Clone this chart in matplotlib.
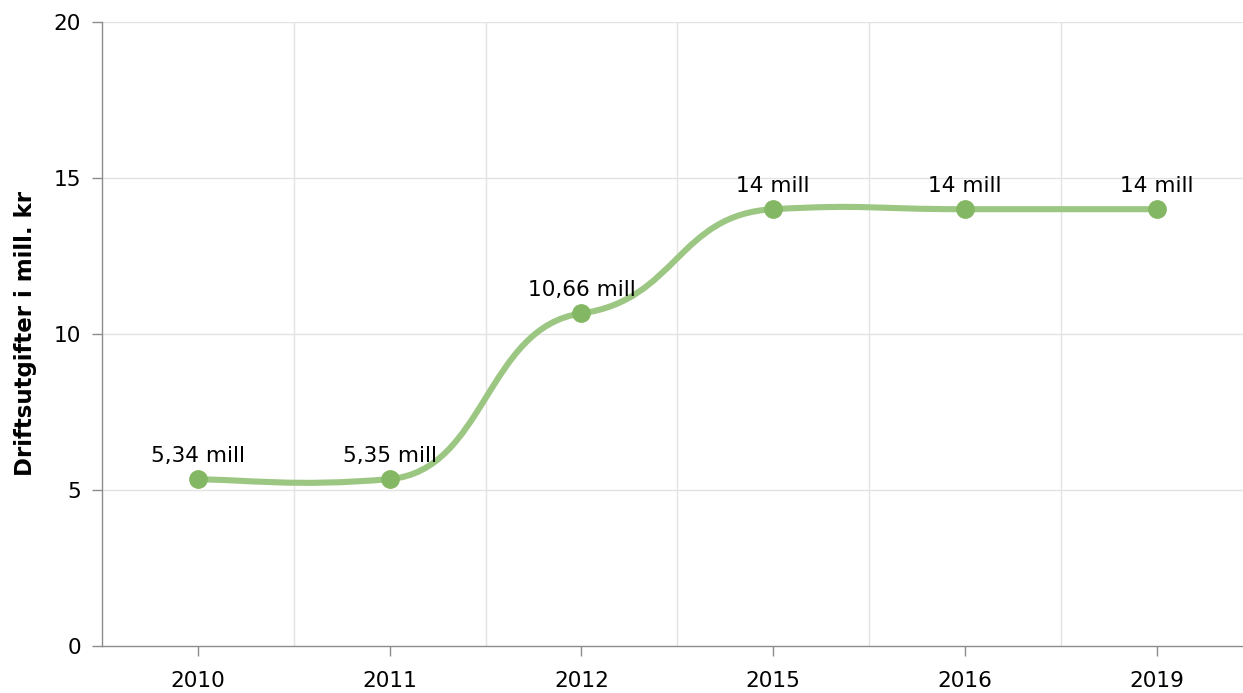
import numpy as np
import matplotlib
matplotlib.use("Agg")
import matplotlib.pyplot as plt
from matplotlib.path import Path
from matplotlib.patches import PathPatch

# Data
years = ["2010", "2011", "2012", "2015", "2016", "2019"]
values = [5.34, 5.35, 10.66, 14.0, 14.0, 14.0]
labels = ["5,34 mill", "5,35 mill", "10,66 mill", "14 mill", "14 mill", "14 mill"]
y_ticks = [0, 5, 10, 15, 20]

LINE_COLOR = "#9cc783"
MARKER_COLOR = "#84b763"
GRID_COLOR = "#e3e3e3"
AXIS_COLOR = "#8c8c8c"
FS = 15.6

plt.rcParams["font.family"] = ["DejaVu Sans"]


def smoothed_path(xs, ys, bx=4.0, by=20.0):
    # bezier smoothing with separate x / y tension
    pts = list(zip(xs, ys))
    n = len(pts)
    verts = [pts[0]]
    codes = [Path.MOVETO]
    for i in range(n - 1):
        p0 = pts[i - 1] if i > 0 else pts[i]
        p1 = pts[i]
        p2 = pts[i + 1]
        p3 = pts[i + 2] if i + 2 < n else pts[i + 1]
        c1 = ((-p0[0] + bx * p1[0] + p2[0]) / bx, (-p0[1] + by * p1[1] + p2[1]) / by)
        c2 = ((p1[0] + bx * p2[0] - p3[0]) / bx, (p1[1] + by * p2[1] - p3[1]) / by)
        verts += [c1, c2, p2]
        codes += [Path.CURVE4] * 3
    return Path(verts, codes)


fig = plt.figure(figsize=(12.43, 6.93), dpi=100)
ax = fig.add_axes([102 / 1243, 1 - 646 / 693, 1 - 102 / 1243, (646 - 22) / 693])

x = np.arange(len(years))
ax.set_xlim(-0.5, 5.45)
ax.set_ylim(0, 20)

# grid: horizontal at ticks, vertical at category boundaries
for yv in y_ticks[1:]:
    ax.axhline(yv, color=GRID_COLOR, lw=1, zorder=0)
for b in x[:-1] + 0.5:
    ax.axvline(b, color=GRID_COLOR, lw=1, zorder=0)

path = smoothed_path(list(x.astype(float)), values)
ax.add_patch(PathPatch(path, facecolor="none", edgecolor=LINE_COLOR, lw=4.4,
                       capstyle="round", joinstyle="round", zorder=2))
ax.plot(x, values, "o", color=MARKER_COLOR, ms=12.5, zorder=3)

for xi, v, lab in zip(x, values, labels):
    ax.annotate(lab, (xi, v), xytext=(0, 12.5), textcoords="offset points",
                ha="center", va="baseline", fontsize=FS, color="#000000", zorder=4)

ax.set_xticks(x)
ax.set_xticklabels(years, fontsize=FS)
ax.set_yticks(y_ticks)
ax.set_yticklabels([str(t) for t in y_ticks], fontsize=FS)
ax.tick_params(axis="x", length=7, width=1, color=AXIS_COLOR, pad=11)
ax.tick_params(axis="y", length=7, width=1, color=AXIS_COLOR, pad=8)

for side in ["top", "right"]:
    ax.spines[side].set_visible(False)
ax.spines["left"].set_color(AXIS_COLOR)
ax.spines["bottom"].set_color(AXIS_COLOR)
ax.spines["left"].set_linewidth(1)
ax.spines["bottom"].set_linewidth(1)

ax.set_ylabel("Driftsutgifter i mill. kr", fontsize=16.5, fontweight="bold", labelpad=12)

fig.savefig("out.png", dpi=100)
